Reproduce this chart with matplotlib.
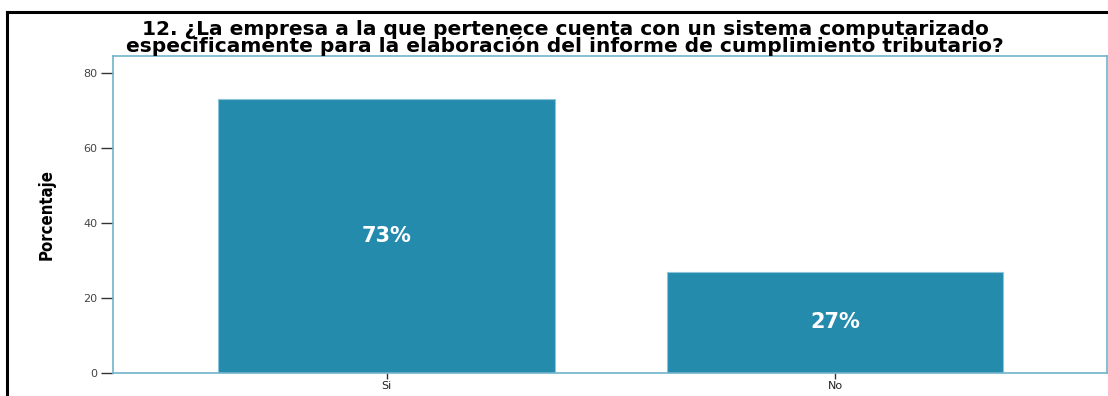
import matplotlib.pyplot as plt
from matplotlib.lines import Line2D

categorias = ['Si', 'No']
porcentajes = [73, 27]
titulo = ('12. ¿La empresa a la que pertenece cuenta con un sistema computarizado\n'
          'especificamente para la elaboración del informe de cumplimiento tributario?')

color_barra = '#248BAD'
color_eje = '#72B3CB'

fig = plt.figure(figsize=(11.08, 3.96), dpi=100)
ax = fig.add_axes([0.102, 0.058, 0.897, 0.8005])

x = range(len(categorias))
bars = ax.bar(x, porcentajes, width=0.75, color=color_barra,
              edgecolor='#8CC4D8', linewidth=0.8)

for b, v in zip(bars, porcentajes):
    ax.text(b.get_x() + b.get_width() / 2, v / 2, f'{v}%',
            ha='center', va='center', color='white',
            fontsize=15, fontweight='bold', family='DejaVu Sans')

ax.set_xlim(-0.61, 1.606)
ax.set_ylim(0, 84.4)
ax.set_yticks([0, 20, 40, 60, 80])
ax.set_xticks(list(x))
ax.set_xticklabels(categorias)

for s in ax.spines.values():
    s.set_color(color_eje)
    s.set_linewidth(1.2)

ax.tick_params(axis='y', length=9, width=1, color='#333333',
               labelsize=8, labelcolor='#444444', pad=2)
ax.tick_params(axis='x', length=4, width=1, color='#333333',
               labelsize=8, labelcolor='#222222', pad=2)
for lbl in ax.get_xticklabels() + ax.get_yticklabels():
    lbl.set_family('DejaVu Sans')

ax.set_ylabel('Porcentaje', fontsize=12, fontweight='bold',
              fontstretch='condensed',
              family=['Liberation Sans Narrow', 'DejaVu Sans'], labelpad=20)

fig.text(0.51, 0.905, titulo, ha='center', va='center',
         fontsize=14.5, fontweight='bold', family='DejaVu Sans',
         linespacing=0.8)

# marco exterior negro (arriba e izquierda)
fig.add_artist(Line2D([7 / 1108, 1.0], [1 - 12 / 396, 1 - 12 / 396],
                      color='black', linewidth=2.2, transform=fig.transFigure))
fig.add_artist(Line2D([7 / 1108, 7 / 1108], [0, 1 - 12 / 396],
                      color='black', linewidth=2.2, transform=fig.transFigure))

fig.savefig('out.png', dpi=100)
